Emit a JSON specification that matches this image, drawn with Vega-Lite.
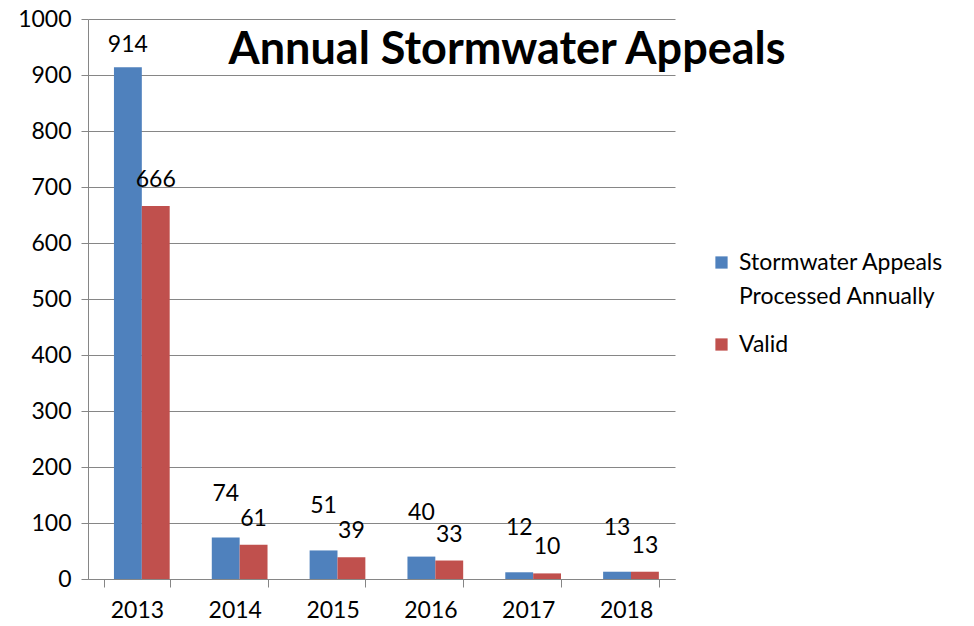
{
  "$schema": "https://vega.github.io/schema/vega-lite/v6.json",
  "autosize": "none",
  "width": 587,
  "height": 560,
  "padding": {"left": 88, "top": 19, "right": 299, "bottom": 47},
  "background": "white",
  "config": {
    "font": "Lato",
    "view": {"stroke": null},
    "style": {"guide-label": {"lineHeight": 34}}
  },
  "title": {
    "text": "Annual Stormwater Appeals",
    "font": "Lato",
    "fontSize": 45,
    "fontWeight": "bold",
    "color": "#000000",
    "orient": "none",
    "anchor": "start",
    "align": "center",
    "baseline": "alphabetic",
    "dx": 419,
    "dy": 45
  },
  "data": {
    "values": [
      {"year": "2013", "series": "Stormwater Appeals Processed Annually", "value": 914},
      {"year": "2013", "series": "Valid", "value": 666},
      {"year": "2014", "series": "Stormwater Appeals Processed Annually", "value": 74},
      {"year": "2014", "series": "Valid", "value": 61},
      {"year": "2015", "series": "Stormwater Appeals Processed Annually", "value": 51},
      {"year": "2015", "series": "Valid", "value": 39},
      {"year": "2016", "series": "Stormwater Appeals Processed Annually", "value": 40},
      {"year": "2016", "series": "Valid", "value": 33},
      {"year": "2017", "series": "Stormwater Appeals Processed Annually", "value": 12},
      {"year": "2017", "series": "Valid", "value": 10},
      {"year": "2018", "series": "Stormwater Appeals Processed Annually", "value": 13},
      {"year": "2018", "series": "Valid", "value": 13}
    ]
  },
  "encoding": {
    "x": {
      "field": "year",
      "type": "nominal",
      "scale": {"paddingInner": 0.33, "paddingOuter": 0.165},
      "axis": {
        "title": null,
        "labelAngle": 0,
        "labelFontSize": 23,
        "labelColor": "#000000",
        "labelPadding": 12,
        "tickBand": "extent",
        "tickSize": 8,
        "tickColor": "#868686",
        "domainColor": "#868686",
        "grid": false
      }
    },
    "xOffset": {
      "field": "series",
      "type": "nominal",
      "scale": {"paddingInner": 0, "paddingOuter": 0.176, "align": 1}
    },
    "y": {
      "field": "value",
      "type": "quantitative",
      "scale": {"domain": [0, 1000], "nice": false},
      "axis": {
        "title": null,
        "values": [0, 100, 200, 300, 400, 500, 600, 700, 800, 900, 1000],
        "format": "d",
        "labelFontSize": 23,
        "labelColor": "#000000",
        "labelPadding": 10,
        "tickSize": 7,
        "tickColor": "#868686",
        "domainColor": "#868686",
        "gridColor": "#868686",
        "gridWidth": 1
      }
    }
  },
  "layer": [
    {
      "mark": {"type": "bar"},
      "encoding": {
        "color": {
          "field": "series",
          "type": "nominal",
          "scale": {
            "domain": ["Stormwater Appeals Processed Annually", "Valid"],
            "range": ["#4F81BD", "#C0504D"]
          },
          "legend": {
            "title": null,
            "orient": "none",
            "legendX": 622,
            "legendY": 232,
            "symbolType": "square",
            "symbolSize": 150,
            "symbolStrokeWidth": 0,
            "labelFontSize": 23,
            "labelColor": "#000000",
            "labelLimit": 400,
            "labelOffset": 6,
            "rowPadding": 24,
            "labelExpr": "datum.label == 'Valid' ? 'Valid' : ['Stormwater Appeals', 'Processed Annually']"
          }
        }
      }
    },
    {
      "transform": [{"filter": "datum.series != 'Valid' && datum.value < 500"}],
      "mark": {"type": "text", "fontSize": 23, "dy": -44, "color": "#000000"},
      "encoding": {"text": {"field": "value", "type": "quantitative"}}
    },
    {
      "transform": [{"filter": "datum.series != 'Valid' && datum.value >= 500"}],
      "mark": {"type": "text", "fontSize": 23, "dy": -22, "color": "#000000"},
      "encoding": {"text": {"field": "value", "type": "quantitative"}}
    },
    {
      "transform": [{"filter": "datum.series == 'Valid'"}],
      "mark": {"type": "text", "fontSize": 23, "dy": -26, "color": "#000000"},
      "encoding": {"text": {"field": "value", "type": "quantitative"}}
    }
  ]
}
